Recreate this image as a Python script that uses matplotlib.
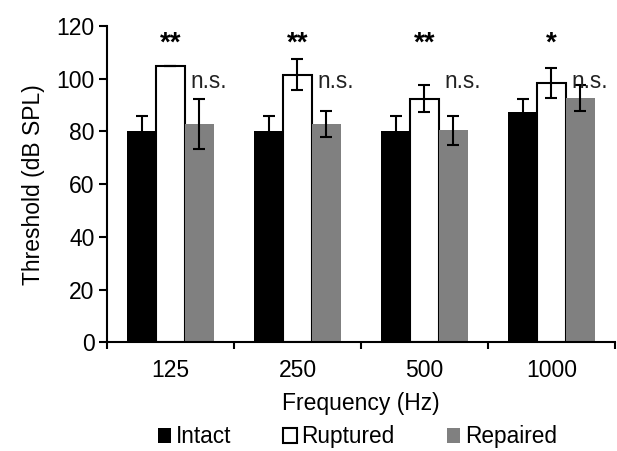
import numpy as np
import matplotlib.pyplot as plt

plt.rcParams['font.family'] = ['Liberation Sans', 'DejaVu Sans']

freqs = ['125', '250', '500', '1000']
intact = [80, 80, 80, 87.5]
intact_err = [5.8, 5.8, 5.8, 5.0]
ruptured = [105, 101.5, 92.5, 98.4]
ruptured_err = [0, 5.8, 5.0, 5.6]
repaired = [82.9, 82.9, 80.4, 92.7]
repaired_err = [9.5, 5.0, 5.6, 4.8]
stars = ['**', '**', '**', '*']
ns_labels = ['n.s.', 'n.s.', 'n.s.', 'n.s.']

fig = plt.figure(figsize=(6.17, 4.51), dpi=100)
ax = fig.add_axes([0.1734, 0.2406, 0.8233, 0.7018])

x = np.arange(len(freqs))
w = 0.227
ekw = dict(elinewidth=1.5, capthick=1.5, ecolor='black')

ax.bar(x - w, intact, w, yerr=intact_err, color='black', capsize=4.5,
       error_kw=ekw, label='Intact')
ax.bar(x, ruptured, w, yerr=ruptured_err, color='white', edgecolor='black',
       linewidth=1.5, capsize=4.5, error_kw=ekw, label='Ruptured')
ax.bar(x + w, repaired, w, yerr=repaired_err, color='#808080', capsize=4.5,
       error_kw=ekw, label='Repaired')

for i in range(len(freqs)):
    ax.text(x[i], 110.5, stars[i], ha='center', va='baseline', fontsize=20,
            fontweight='bold')
    ax.text(x[i] + w + 0.075, 96.4, ns_labels[i], ha='center', va='baseline',
            fontsize=16.3, color='#222222')

ax.set_xlim(-0.5, 3.5)
ax.set_ylim(0, 120)
ax.set_yticks(np.arange(0, 121, 20))
ax.set_xticks(x)
ax.set_xticklabels(freqs)
ax.set_xticks(np.arange(-0.5, 3.6, 1), minor=True)
ax.tick_params(axis='x', which='major', length=0, pad=12, labelsize=16.5)
ax.tick_params(axis='x', which='minor', length=5, width=1.5)
ax.tick_params(axis='y', length=6, width=1.5, labelsize=16.5, pad=3)
for s in ['top', 'right']:
    ax.spines[s].set_visible(False)
for s in ['left', 'bottom']:
    ax.spines[s].set_linewidth(1.5)

ax.set_xlabel('Frequency (Hz)', fontsize=16.5, labelpad=7)
ax.set_ylabel('Threshold (dB SPL)', fontsize=16.5, labelpad=8)

ax.legend(loc='center', bbox_to_anchor=(0.493, -0.2986), ncol=3, frameon=False,
          fontsize=16.3, handlelength=0.6, handleheight=0.6, handletextpad=0.2,
          columnspacing=2.3)

fig.savefig('out.png', dpi=100)
